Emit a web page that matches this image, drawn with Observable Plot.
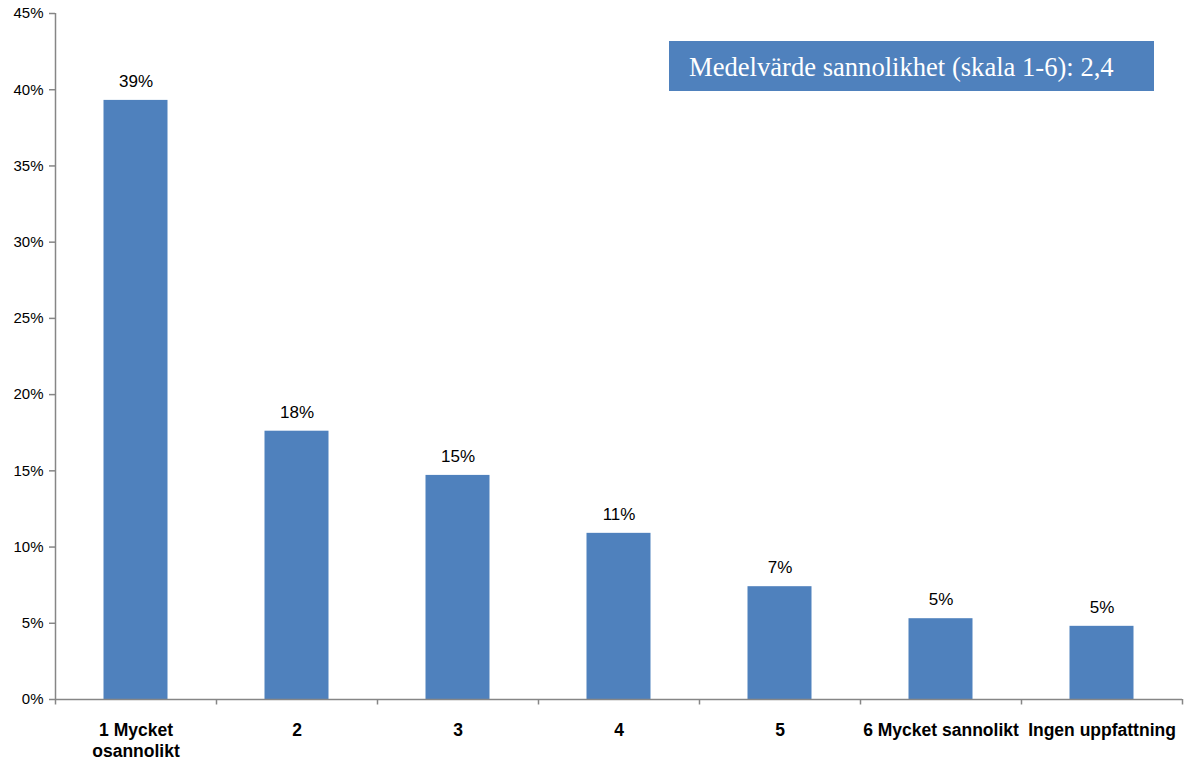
<!DOCTYPE html>
<html>
<head>
<meta charset="utf-8">
<script src="https://cdn.jsdelivr.net/npm/d3@7"></script>
<script src="https://cdn.jsdelivr.net/npm/@observablehq/plot@0.6"></script>
<style>
  body { margin: 0; background: #fff; }
  #wrap { position: relative; width: 1187px; height: 765px; }
  #note {
    position: absolute; left: 669px; top: 41px; width: 485px; height: 50px;
    background: #4F81BD; color: #fff; box-sizing: border-box;
    font-family: "Liberation Serif", "Times New Roman", serif; font-size: 26.6px;
    padding-left: 20px; line-height: 52px; white-space: nowrap;
  }
</style>
</head>
<body>
<div id="wrap"></div>
<script>
const categories = ["1 Mycket\nosannolikt", "2", "3", "4", "5", "6 Mycket sannolikt", "Ingen uppfattning"];
const values = [39.3, 17.6, 14.7, 10.9, 7.4, 5.3, 4.8];
const valueLabels = ["39%", "18%", "15%", "11%", "7%", "5%", "5%"];
const yTicks = [0, 5, 10, 15, 20, 25, 30, 35, 40, 45];
const noteText = "Medelvärde sannolikhet (skala 1-6): 2,4";

const data = categories.map((c, i) => ({cat: c, value: values[i], label: valueLabels[i]}));

const W = 1187, H = 765, ML = 55, MR = 5, MT = 13, MB = 66;
const step = (W - ML - MR) / categories.length;
const barW = 64;
const inset = (step - barW) / 2;
const axisColor = "#868686";

const chart = Plot.plot({
  width: W, height: H,
  marginLeft: ML, marginRight: MR, marginTop: MT, marginBottom: MB,
  style: {fontFamily: "'Liberation Sans', Arial, sans-serif", background: "#fff", color: "#000"},
  x: {domain: categories, padding: 0, label: null},
  y: {domain: [0, 45], label: null},
  marks: [
    Plot.barY(data, {x: "cat", y: "value", fill: "#4F81BD", insetLeft: inset, insetRight: inset}),
    Plot.text(data, {x: "cat", y: "value", text: "label", dy: -19, fontSize: 17, fill: "#000"}),
    Plot.axisY({ticks: yTicks, tickFormat: d => d + "%", tickSize: 6, tickPadding: 6, fontSize: 15, stroke: axisColor, strokeWidth: 1.5, fill: "#000"}),
    Plot.ruleX(categories.slice(0, 1), {x: d => d, dx: -step / 2, y1: 0, y2: 45, stroke: axisColor, strokeWidth: 1.5}),
    Plot.axisX({tickSize: 0, tickPadding: 21, fontSize: 17.5, fontWeight: "bold", lineAnchor: "top", lineHeight: 1.22, fill: "#000"}),
    Plot.ruleY([0], {stroke: axisColor, strokeWidth: 1.5}),
    Plot.ruleX(categories, {x: d => d, dx: -step / 2, y1: 0, y2: -0.36, stroke: axisColor, strokeWidth: 1.5}),
    Plot.ruleX(categories.slice(-1), {x: d => d, dx: step / 2, y1: 0, y2: -0.36, stroke: axisColor, strokeWidth: 1.5})
  ]
});

const wrap = document.getElementById("wrap");
wrap.appendChild(chart);
const note = document.createElement("div");
note.id = "note";
note.textContent = noteText;
wrap.appendChild(note);
</script>
</body>
</html>
